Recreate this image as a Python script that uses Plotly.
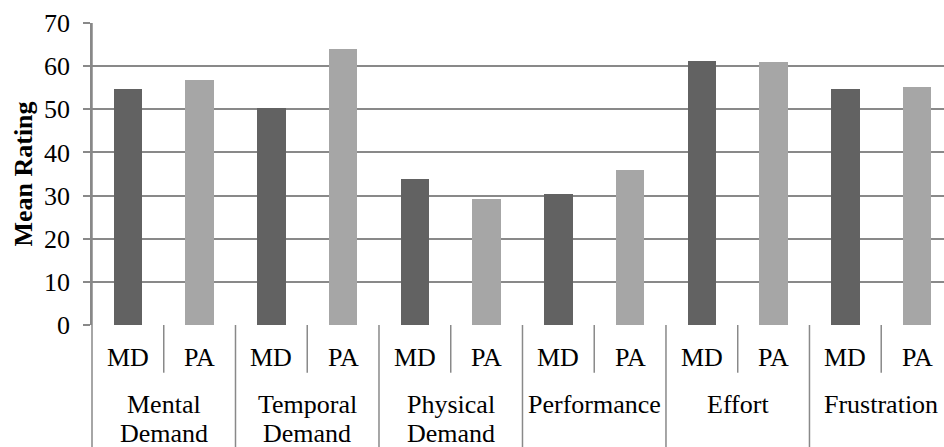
import plotly.graph_objects as go

# NASA-TLX subscale mean ratings for the two conditions
groups = ["Mental Demand", "Temporal Demand", "Physical Demand",
          "Performance", "Effort", "Frustration"]
conditions = ["MD", "PA"]
md_values = [54.7, 50.3, 33.8, 30.4, 61.2, 54.7]
pa_values = [56.8, 64.0, 29.3, 36.0, 61.0, 55.2]
y_ticks = [0, 10, 20, 30, 40, 50, 60, 70]

FONT = "Liberation Serif, Times New Roman, serif"
FSIZE = 26
LINE = "#898989"
DARK = "#626262"
LIGHT = "#a6a6a6"

n_slots = len(groups) * len(conditions)
x_min, x_max = -0.5, n_slots - 0.625

md_x = [i * 2 for i in range(len(groups))]
pa_x = [i * 2 + 1 for i in range(len(groups))]

fig = go.Figure()
fig.add_trace(go.Bar(x=md_x, y=md_values, name="MD", width=0.4,
                     marker=dict(color=DARK, line=dict(width=0))))
fig.add_trace(go.Bar(x=pa_x, y=pa_values, name="PA", width=0.4,
                     marker=dict(color=LIGHT, line=dict(width=0))))


def px(v):
    """Convert an x data value to paper coordinates."""
    return (v - x_min) / (x_max - x_min)


shapes = []
annotations = []
text_font = dict(family=FONT, size=FSIZE, color="black")

# left axis line running down through the category rows
shapes.append(dict(type="line", xref="paper", yref="paper", x0=0, x1=0,
                   y0=1, y1=-0.45, line=dict(color=LINE, width=1.5)))

# separators between conditions (short) and between groups (long)
for b in range(1, n_slots + 1):
    xb = px(b - 0.5)
    if xb > 1.0:
        continue
    long_line = b % len(conditions) == 0
    shapes.append(dict(type="line", xref="paper", yref="paper", x0=xb, x1=xb,
                       y0=0, y1=-0.45 if long_line else -0.158,
                       line=dict(color=LINE, width=1.5)))

# condition labels
for gi in range(len(groups)):
    for ci, cond in enumerate(conditions):
        annotations.append(dict(x=px(gi * 2 + ci), y=-0.108, xref="paper",
                                yref="paper", text=cond, showarrow=False,
                                xanchor="center", yanchor="middle",
                                font=text_font))

# group labels, wrapped onto two lines where they have two words
line_y = [-0.262, -0.36]
for gi, g in enumerate(groups):
    words = g.split(" ")
    for li, word in enumerate(words):
        annotations.append(dict(x=px(gi * 2 + 0.5), y=line_y[li],
                                xref="paper", yref="paper", text=word,
                                showarrow=False, xanchor="center",
                                yanchor="middle", font=text_font))

fig.update_layout(
    width=944, height=447,
    margin=dict(l=92, r=0, t=23, b=122),
    paper_bgcolor="white", plot_bgcolor="white",
    showlegend=False,
    bargap=0,
    shapes=shapes,
    annotations=annotations,
    font=text_font,
)
fig.update_xaxes(range=[x_min, x_max], showticklabels=False, showgrid=False,
                 zeroline=False, showline=False, ticks="")
fig.update_yaxes(range=[0, 70], tickvals=y_ticks, showgrid=True,
                 gridcolor=LINE, gridwidth=1.5, zeroline=False,
                 showline=True, linecolor=LINE, linewidth=1.5,
                 ticks="outside", ticklen=7, tickcolor=LINE, tickwidth=1.5,
                 ticklabelstandoff=8,
                 tickfont=text_font,
                 title=dict(text="<b>Mean Rating</b>", standoff=4,
                            font=text_font))

fig.write_html("out.html")
